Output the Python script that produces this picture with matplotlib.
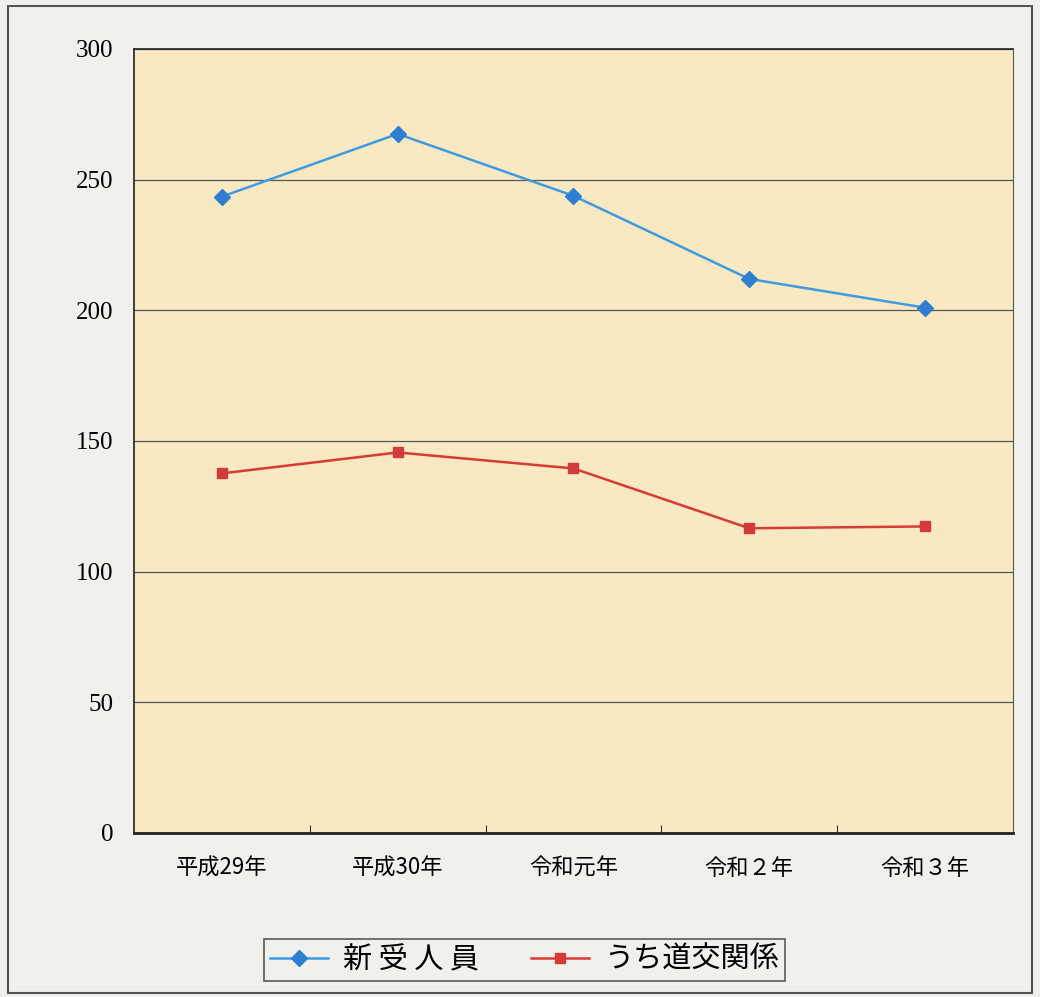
import matplotlib.pyplot as plt
from matplotlib.patches import Rectangle

years = ['平成29年', '平成30年', '令和元年', '令和２年', '令和３年']
new_total = [243.5, 267.5, 243.8, 212, 201]
traffic = [137.6, 145.6, 139.5, 116.6, 117.3]
yticks = [0, 50, 100, 150, 200, 250, 300]

plt.rcParams['font.family'] = ['Noto Sans CJK JP', 'DejaVu Sans']

fig = plt.figure(figsize=(10.4, 9.97), dpi=100)
fig.patch.set_facecolor('#f1f0ec')
ax = fig.add_axes([0.1288, 0.1645, 0.8452, 0.7864])
ax.set_facecolor('#f8e9c3')

x = range(len(years))
ax.plot(x, new_total, color='#3f9be0', lw=1.8, marker='D', ms=8,
        mfc='#2e7fd0', mec='#2e7fd0', label='新 受 人 員')
ax.plot(x, traffic, color='#d83a36', lw=1.8, marker='s', ms=7.5,
        mfc='#d33a3a', mec='#d33a3a', label='うち道交関係')

ax.set_xlim(-0.5, len(years) - 0.5)
ax.set_ylim(0, 300)
ax.set_yticks(yticks)
ax.set_yticklabels([str(v) for v in yticks], family='Liberation Serif', fontsize=18)
ax.yaxis.grid(True, color='#555555', lw=0.9)
ax.set_axisbelow(True)
ax.tick_params(axis='y', length=0, pad=15)

ax.set_xticks([i + 0.5 for i in range(len(years) - 1)])
ax.set_xticklabels([])
ax.set_xticks(list(x), minor=True)
ax.set_xticklabels(years, minor=True, fontsize=16)
ax.tick_params(axis='x', which='major', direction='in', length=6, color='#333333')
ax.tick_params(axis='x', which='minor', length=0, pad=17)

for s in ['left', 'top']:
    ax.spines[s].set_color('#222222')
    ax.spines[s].set_linewidth(1.2)
ax.spines['bottom'].set_color('#222222')
ax.spines['bottom'].set_linewidth(2)
ax.spines['right'].set_color('#555555')
ax.spines['right'].set_linewidth(0.8)

leg = fig.legend(loc='center', bbox_to_anchor=(0.504, 0.037), ncol=2, fontsize=21,
                 frameon=True, fancybox=False, edgecolor='#333333',
                 handlelength=2.0, handletextpad=0.5, columnspacing=1.8, borderpad=0.2)
leg.get_frame().set_facecolor('#f1f0ec')
leg.get_frame().set_linewidth(1.2)

fig.patches.append(Rectangle((0.008, 0.004), 0.984, 0.99, transform=fig.transFigure,
                             fill=False, edgecolor='#555555', lw=1.5))

fig.savefig('out.png', dpi=100, facecolor=fig.get_facecolor())
